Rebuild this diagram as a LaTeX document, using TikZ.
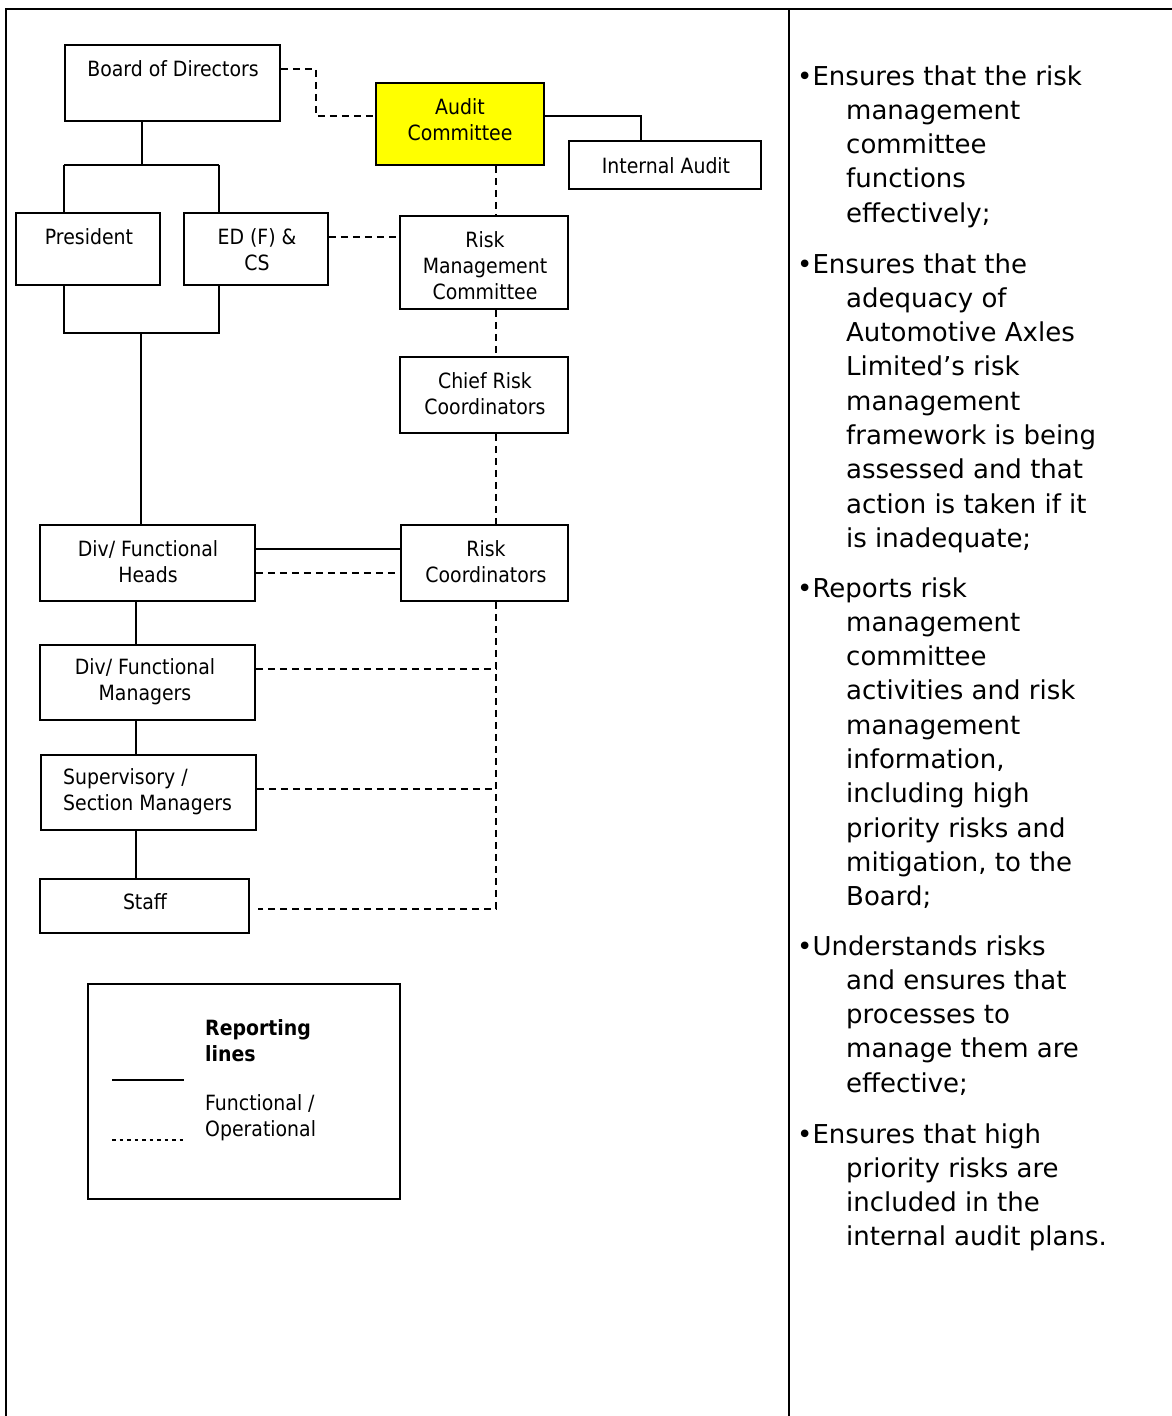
\documentclass[tikz,border=0pt]{standalone}
\usepackage{fontspec}
\setmainfont{DejaVu Sans}
\newfontfamily\boxfont{DejaVu Sans Condensed}
\usetikzlibrary{calc}
\definecolor{auditfill}{RGB}{255,255,0}
\begin{document}
\begin{tikzpicture}[x=1pt,y=-1pt,
  frame/.style={line width=2.4pt},
  box/.style={draw=black, line width=1.8pt, rectangle, inner sep=0pt},
  lbl/.style={font={\boxfont\fontsize{21}{26}\selectfont}, align=center, inner sep=0pt},
  solidline/.style={line width=1.6pt},
  dashline/.style={line width=1.6pt, dash pattern=on 7.5pt off 4.5pt},
  dotline/.style={line width=1.6pt, dash pattern=on 3.5pt off 4pt},
  duty/.style={font={\fontsize{26}{34.3}\selectfont}, align=left, inner sep=0pt, anchor=base west}
]
\useasboundingbox (0,0) rectangle (1172,1416);

% page frame and column divider
\draw[frame] (6,1416) -- (6,9) -- (1172,9);
\draw[frame] (789,9) -- (789,1416);

% boxes
\node[box, minimum width=215pt, minimum height=76pt] (board) at (172.5,83) {};
\node[box, fill=auditfill, minimum width=168pt, minimum height=82pt] (audit) at (460,124) {};
\node[box, minimum width=192pt, minimum height=48pt] (internal) at (665,165) {};
\node[box, minimum width=144pt, minimum height=72pt] (president) at (88,249) {};
\node[box, minimum width=144pt, minimum height=72pt] (ed) at (256,249) {};
\node[box, minimum width=168pt, minimum height=93pt] (rmc) at (484,262.5) {};
\node[box, minimum width=168pt, minimum height=76pt] (chief) at (484,395) {};
\node[box, minimum width=215pt, minimum height=76pt] (divheads) at (147.5,563) {};
\node[box, minimum width=167pt, minimum height=76pt] (rc) at (484.5,563) {};
\node[box, minimum width=215pt, minimum height=75pt] (dfm) at (147.5,682.5) {};
\node[box, minimum width=215pt, minimum height=75pt] (sup) at (148.5,792.5) {};
\node[box, minimum width=209pt, minimum height=54pt] (staff) at (144.5,906) {};
\node[box, minimum width=312pt, minimum height=215pt] (legend) at (244,1091.5) {};

% box labels
\node[lbl] (boardtxt) at (173,69) {Board of Directors};
\node[lbl] (audittxt) at (460,120) {Audit\\Committee};
\node[lbl] (internaltxt) at (666,166) {Internal Audit};
\node[lbl] (presidenttxt) at (89,237) {President};
\node[lbl] (edtxt) at (257,250) {ED (F) \&\\CS};
\node[lbl] (rmctxt) at (485,265.5) {Risk\\Management\\Committee};
\node[lbl] (chieftxt) at (485,394) {Chief Risk\\Coordinators};
\node[lbl] (divheadstxt) at (148,562) {Div/ Functional\\Heads};
\node[lbl] (rctxt) at (486,562) {Risk\\Coordinators};
\node[lbl] (dfmtxt) at (145,682) {Div/ Functional\\Managers};
\node[lbl, align=left, anchor=west] (suptxt) at (63,792) {Supervisory /\\Section Managers};
\node[lbl] (stafftxt) at (145,902) {Staff};

% legend contents
\node[lbl, align=left, anchor=west, font={\boxfont\bfseries\fontsize{21}{26}\selectfont}] (legtitle) at (205,1040.5) {Reporting\\lines};
\node[lbl, align=left, anchor=west] (legtxt) at (205,1118) {Functional /\\Operational};
\coordinate (ls1) at (112,1080);
\coordinate (ls2) at (184,1080);
\coordinate (ld1) at (112,1140);
\coordinate (ld2) at (184,1140);
\draw[solidline] (ls1) -- (ls2);
\draw[dotline] (ld1) -- (ld2);

% junction points of the reporting tree
\coordinate (bj) at (142,165);
\coordinate (pj) at (64,165);
\coordinate (ej) at (219,165);
\coordinate (pb) at (64,333);
\coordinate (eb) at (219,333);
\coordinate (mj) at (141,333);
\coordinate (vx) at (496,0);
\coordinate (sx) at (136,0);
\coordinate (ia) at (641,0);

% solid reporting lines
\draw[solidline] (bj |- board.south) -- (bj);
\draw[solidline] (pj) -- (ej);
\draw[solidline] (pj) -- (pj |- president.north);
\draw[solidline] (ej) -- (ej |- ed.north);
\draw[solidline] (pb |- president.south) -- (pb) -- (eb) -- (eb |- ed.south);
\draw[solidline] (mj) -- (mj |- divheads.north);
\draw[solidline] (audit.east |- 0,116) -| (ia |- internal.north);
\draw[solidline] (divheads.east |- 0,549) -- (rc.west |- 0,549);
\draw[solidline] (sx |- divheads.south) -- (sx |- dfm.north);
\draw[solidline] (sx |- dfm.south) -- (sx |- sup.north);
\draw[solidline] (sx |- sup.south) -- (sx |- staff.north);

% functional / operational lines
\draw[dashline] (board.east |- 0,69) -- (316,69) |- (audit.west |- 0,116);
\draw[dashline] (vx |- audit.south) -- (vx |- rmc.north);
\draw[dashline] (ed.east |- 0,237) -- (rmc.west |- 0,237);
\draw[dashline] (vx |- rmc.south) -- (vx |- chief.north);
\draw[dashline] (vx |- chief.south) -- (vx |- rc.north);
\draw[dashline] (divheads.east |- 0,573) -- (rc.west |- 0,573);
\draw[dashline, shorten >=8pt] (vx |- rc.south) |- (staff.east |- 0,909);
\draw[dashline] (dfm.east |- 0,669) -- (vx |- 0,669);
\draw[dashline] (sup.east |- 0,789) -- (vx |- 0,789);

% duties of the audit committee (each node placed by the baseline of its last line)
\node[duty] (duty1) at (797,222.2) {•Ensures that the risk\\
\hspace*{49pt}management\\
\hspace*{49pt}committee\\
\hspace*{49pt}functions\\
\hspace*{49pt}effectively;};
\node[duty] (duty2) at (797,547.4) {•Ensures that the\\
\hspace*{49pt}adequacy of\\
\hspace*{49pt}Automotive Axles\\
\hspace*{49pt}Limited’s risk\\
\hspace*{49pt}management\\
\hspace*{49pt}framework is being\\
\hspace*{49pt}assessed and that\\
\hspace*{49pt}action is taken if it\\
\hspace*{49pt}is inadequate;};
\node[duty] (duty3) at (797,905.7) {•Reports risk\\
\hspace*{49pt}management\\
\hspace*{49pt}committee\\
\hspace*{49pt}activities and risk\\
\hspace*{49pt}management\\
\hspace*{49pt}information,\\
\hspace*{49pt}including high\\
\hspace*{49pt}priority risks and\\
\hspace*{49pt}mitigation, to the\\
\hspace*{49pt}Board;};
\node[duty] (duty4) at (797,1092.2) {•Understands risks\\
\hspace*{49pt}and ensures that\\
\hspace*{49pt}processes to\\
\hspace*{49pt}manage them are\\
\hspace*{49pt}effective;};
\node[duty] (duty5) at (797,1245.9) {•Ensures that high\\
\hspace*{49pt}priority risks are\\
\hspace*{49pt}included in the\\
\hspace*{49pt}internal audit plans.};
\end{tikzpicture}
\end{document}
